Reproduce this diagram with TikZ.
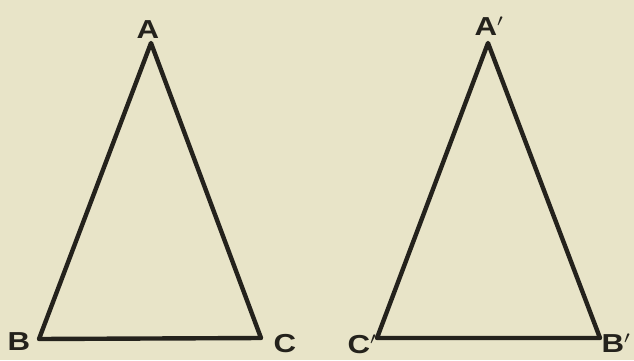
\documentclass[tikz,border=0pt]{standalone}
\usepackage{fontspec}
\setmainfont{Liberation Sans}
\definecolor{paper}{RGB}{232,228,200}
\definecolor{ink}{RGB}{36,34,28}
\begin{document}
\begin{tikzpicture}[x=1pt,y=1pt,
  tri/.style={draw=ink,line width=4.4pt,line join=round},
  lbl/.style={text=ink,font=\bfseries\fontsize{26}{26}\selectfont,inner sep=0pt,xscale=1.2}]
\fill[paper] (0,0) rectangle (634,360);
\useasboundingbox (0,0) rectangle (634,360);
% left triangle
\coordinate (A) at (151,317);
\coordinate (B) at (39,21);
\coordinate (C) at (261,22);
\draw[tri] (A) -- (B) -- (C) -- cycle;
% right triangle
\coordinate (A2) at (488,317);
\coordinate (C2) at (377,22);
\coordinate (B2) at (600,22);
\draw[tri] (A2) -- (C2) -- (B2) -- cycle;
% labels
\node[lbl] (lA) at (148,330) {A};
\node[lbl] (lB) at (19,18) {B};
\node[lbl] (lC) at (285,16) {C};
\node[lbl] (lA2) at (489,334) {A$'$};
\node[lbl] (lC2) at (362,16) {C$'$};
\node[lbl] (lB2) at (616,17) {B$'$};
\end{tikzpicture}
\end{document}
